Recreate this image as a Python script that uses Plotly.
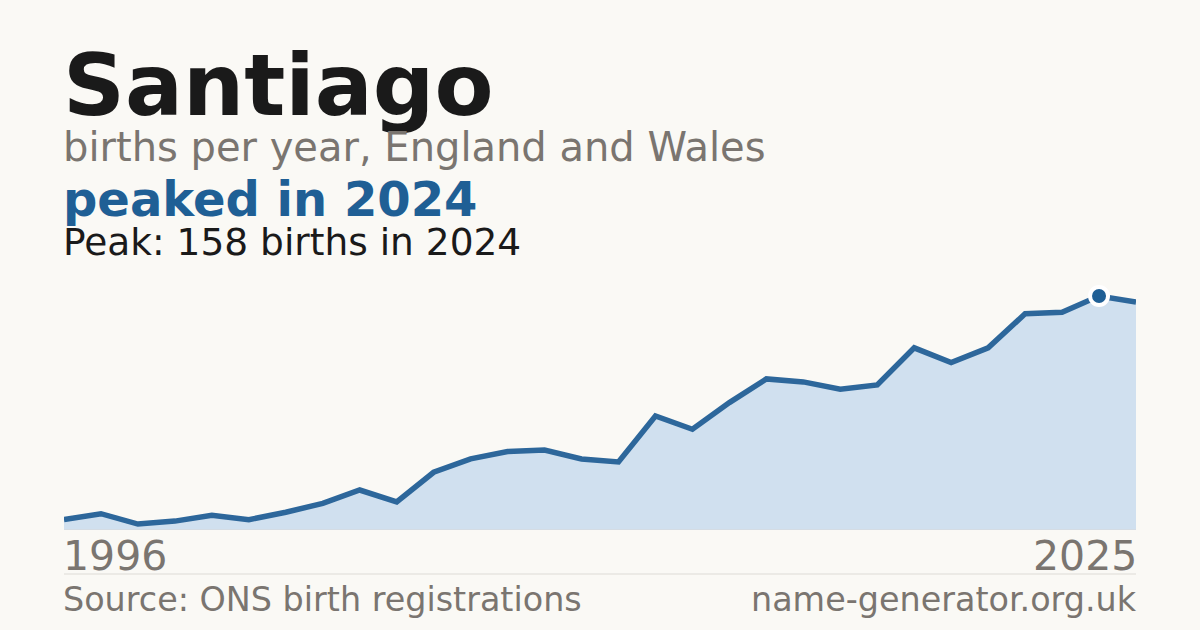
import plotly.graph_objects as go

years = list(range(1996, 2026))
births = [7, 11, 4, 6, 10, 7, 12, 18, 27, 19, 39, 48, 53, 54, 48, 46, 77, 68, 86, 102,
          100, 95, 98, 123, 113, 123, 146, 147, 158, 154]

name = "Santiago"
subtitle = "births per year, England and Wales"
headline = "peaked in 2024"
source = "Source: ONS birth registrations"
site = "name-generator.org.uk"

peak_val = max(births)
peak_year = years[births.index(peak_val)]

BG = "#faf9f5"
LINE = "#2d679b"
FILL = "#d0e0ef"
DARK = "#1f5f95"
GRAY = "#7a7570"
FONT = "DejaVu Sans"

# plot area: x 64..1136, y 270..530 px
T, B = 270, 530
H = B - T
def py(p):
    return (B - p) / H

fig = go.Figure()
fig.add_trace(go.Scatter(
    x=years, y=births, mode="lines", fill="tozeroy", fillcolor=FILL,
    line=dict(color=LINE, width=5.5), hoverinfo="skip"))
fig.add_trace(go.Scatter(
    x=[peak_year], y=[peak_val], mode="markers",
    marker=dict(size=18, color=DARK, line=dict(color="white", width=4)),
    hoverinfo="skip"))

ymax = peak_val / 0.9
fig.update_layout(
    width=1200, height=630, paper_bgcolor=BG, plot_bgcolor=BG,
    margin=dict(l=64, r=64, t=T, b=630 - B), showlegend=False,
    xaxis=dict(range=[years[0], years[-1]], visible=False, fixedrange=True),
    yaxis=dict(range=[0, ymax], visible=False, fixedrange=True),
    font=dict(family=FONT), hovermode=False,
)

ann = [
    dict(text=f"<b>{name}</b>", y=py(85), size=86, color="#1a1a1a"),
    dict(text=subtitle, y=py(147), size=40, color=GRAY),
    dict(text=f"<b>{headline}</b>", y=py(199), size=48, color=DARK),
    dict(text=f"Peak: {peak_val} births in {peak_year}", y=py(242), size=37.5, color="#1a1a1a"),
]
for a in ann:
    fig.add_annotation(x=0, xref="paper", y=a["y"], yref="paper", text=a["text"],
                       xanchor="left", yanchor="middle", showarrow=False, xshift=-3,
                       font=dict(size=a["size"], color=a["color"], family=FONT))

fig.add_annotation(x=years[0], xref="x", y=py(556), yref="paper", text=str(years[0]),
                   xanchor="left", yanchor="middle", showarrow=False, xshift=-3,
                   font=dict(size=41, color=GRAY, family=FONT))
fig.add_annotation(x=years[-1], xref="x", y=py(556), yref="paper", text=str(years[-1]),
                   xanchor="right", yanchor="middle", showarrow=False, xshift=3,
                   font=dict(size=41, color=GRAY, family=FONT))
fig.add_annotation(x=0, xref="paper", y=py(599), yref="paper", text=source,
                   xanchor="left", yanchor="middle", showarrow=False, xshift=-3,
                   font=dict(size=33.4, color=GRAY, family=FONT))
fig.add_annotation(x=1, xref="paper", y=py(599), yref="paper", text=site,
                   xanchor="right", yanchor="middle", showarrow=False, xshift=3,
                   font=dict(size=33.4, color=GRAY, family=FONT))

fig.add_shape(type="line", xref="paper", yref="paper", x0=0, x1=1, y0=py(574), y1=py(574),
              line=dict(color="#dddbd6", width=1))
fig.add_shape(type="line", xref="paper", yref="y", x0=0, x1=1, y0=0, y1=0,
              line=dict(color="#d8d8d8", width=1))

fig.write_html("out.html", config={"displayModeBar": False, "staticPlot": True},
               post_script="document.body.style.margin='0';"
                           "document.body.style.background='%s';" % BG)
